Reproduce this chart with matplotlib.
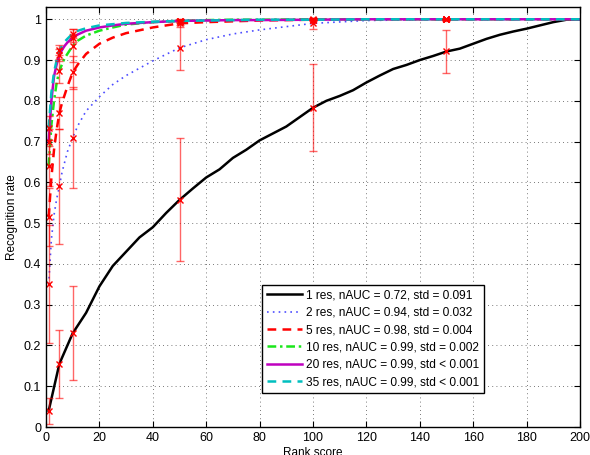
import numpy as np
import matplotlib
matplotlib.use("Agg")
import matplotlib.pyplot as plt

plt.rcParams['font.family'] = ['Liberation Sans', 'DejaVu Sans']
plt.rcParams['font.size'] = 8

# recognition rate vs. rank, one curve per number of resolutions
ranks_1 = [1, 5, 10, 15, 20, 25, 30, 35, 40, 45, 50, 55, 60, 65, 70, 75, 80, 85, 90,
           95, 100, 105, 110, 115, 120, 125, 130, 135, 140, 145, 150, 155, 160, 165,
           170, 175, 180, 185, 190, 195, 200]
rate_1 = [0.04, 0.155, 0.23, 0.28, 0.345, 0.395, 0.43, 0.465, 0.49, 0.525, 0.557,
          0.585, 0.612, 0.632, 0.66, 0.68, 0.703, 0.72, 0.737, 0.76, 0.783, 0.80,
          0.812, 0.826, 0.845, 0.862, 0.878, 0.888, 0.90, 0.91, 0.921, 0.928, 0.94,
          0.952, 0.962, 0.97, 0.977, 0.985, 0.993, 0.999, 1.0]

ranks = [1, 2, 3, 4, 5, 6, 7, 8, 10, 12, 15, 20, 25, 30, 40, 50, 60, 70, 80, 100,
         120, 150, 200]
rate_2 = [0.35, 0.46, 0.52, 0.56, 0.59, 0.625, 0.65, 0.675, 0.71, 0.74, 0.775, 0.81,
          0.84, 0.862, 0.898, 0.93, 0.95, 0.964, 0.974, 0.99, 0.997, 1.0, 1.0]
rate_5 = [0.515, 0.61, 0.68, 0.73, 0.77, 0.795, 0.815, 0.835, 0.87, 0.89, 0.915, 0.94,
          0.955, 0.966, 0.98, 0.99, 0.993, 0.995, 0.997, 0.999, 1.0, 1.0, 1.0]
rate_10 = [0.64, 0.74, 0.80, 0.845, 0.873, 0.89, 0.905, 0.915, 0.935, 0.948, 0.96,
           0.972, 0.98, 0.987, 0.993, 0.996, 0.998, 0.999, 0.999, 1.0, 1.0, 1.0, 1.0]
rate_20 = [0.70, 0.80, 0.86, 0.89, 0.912, 0.925, 0.935, 0.943, 0.955, 0.963, 0.972,
           0.98, 0.985, 0.989, 0.993, 0.996, 0.997, 0.998, 0.998, 0.999, 1.0, 1.0, 1.0]
rate_35 = [0.733, 0.82, 0.87, 0.90, 0.924, 0.935, 0.945, 0.952, 0.965, 0.972, 0.978,
           0.985, 0.988, 0.991, 0.994, 0.996, 0.997, 0.998, 0.999, 0.999, 1.0, 1.0, 1.0]

# std across runs at the sampled ranks
err_ranks = [1, 5, 10, 50, 100, 150]
std_1 = [0.032, 0.083, 0.115, 0.151, 0.107, 0.052]
std_2 = [0.145, 0.14, 0.124, 0.055, 0.013, 0.003]
std_5 = [0.07, 0.04, 0.04, 0.01, 0.003, 0.001]
std_10 = [0.05, 0.03, 0.04, 0.005, 0.002, 0.001]
std_20 = [0.03, 0.015, 0.01, 0.003, 0.001, 0.0]
std_35 = [0.03, 0.012, 0.01, 0.003, 0.001, 0.0]

labels = ['1 res, nAUC = 0.72, std = 0.091',
          '2 res, nAUC = 0.94, std = 0.032',
          '5 res, nAUC = 0.98, std = 0.004',
          '10 res, nAUC = 0.99, std = 0.002',
          '20 res, nAUC = 0.99, std < 0.001',
          '35 res, nAUC = 0.99, std < 0.001']

series = [
    (ranks_1, rate_1, std_1, dict(color='k', ls='-', lw=1.8)),
    (ranks, rate_2, std_2, dict(color=(0.3, 0.3, 1.0), ls=(0, (1, 2.5)), lw=1.2)),
    (ranks, rate_5, std_5, dict(color='r', ls=(0, (3.5, 2.5)), lw=1.8)),
    (ranks, rate_10, std_10, dict(color=(0.1, 0.9, 0.1), ls=(0, (3.5, 1.5, 1, 1.5)), lw=1.8)),
    (ranks, rate_20, std_20, dict(color='m', ls='-', lw=1.8)),
    (ranks, rate_35, std_35, dict(color='c', ls=(0, (3.5, 2.5)), lw=1.8)),
]

fig = plt.figure(figsize=(5.9, 4.55), dpi=100)
ax = fig.add_axes([0.078, 0.0615, 0.905, 0.923])

for (x, y, s, st), lab in zip(series, labels):
    ax.plot(x, y, label=lab, **st)

for x, y, s, st in series:
    ym = [y[x.index(r)] for r in err_ranks]
    ax.errorbar(err_ranks, ym, yerr=s, fmt='none', ecolor=(1, 0, 0, 0.6),
                elinewidth=1.0, capsize=2.6, capthick=1.0)
    ax.plot(err_ranks, ym, 'x', color='r', ms=4, mew=1.0)

ax.set_xlim(0, 200)
ax.set_ylim(0, 1.03)
ax.set_xticks(np.arange(0, 201, 20))
ax.set_yticks(np.arange(0, 1.01, 0.1))
ax.set_yticklabels(['0', '0.1', '0.2', '0.3', '0.4', '0.5', '0.6', '0.7', '0.8', '0.9', '1'])
ax.tick_params(direction='in', top=True, right=True, length=4, labelsize=9)
ax.grid(True, color='k', ls=(0, (1, 4)), lw=0.6, alpha=0.7)
for sp in ax.spines.values():
    sp.set_linewidth(1.0)

ax.set_xlabel('Rank score', fontsize=8.5, labelpad=2)
ax.set_ylabel('Recognition rate', fontsize=8.5)

leg = ax.legend(loc='lower left', bbox_to_anchor=(0.404, 0.081), borderaxespad=0,
                fancybox=False, edgecolor='k', framealpha=1, fontsize=8.6,
                handlelength=3.0, handletextpad=0.3, labelspacing=0.45,
                borderpad=0.4)
leg.get_frame().set_linewidth(1.0)

fig.savefig('out.png', dpi=100)
